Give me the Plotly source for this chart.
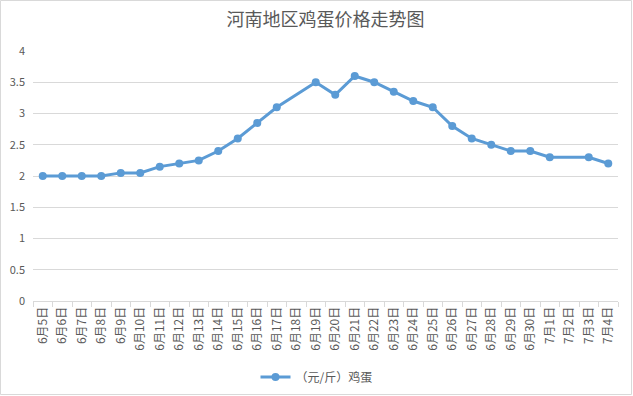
import plotly.graph_objects as go

categories = ["6月5日","6月6日","6月7日","6月8日","6月9日","6月10日","6月11日","6月12日","6月13日","6月14日",
              "6月15日","6月16日","6月17日","6月18日","6月19日","6月20日","6月21日","6月22日","6月23日","6月24日",
              "6月25日","6月26日","6月27日","6月28日","6月29日","6月30日","7月1日","7月2日","7月3日","7月4日"]
egg_price = [2.0, 2.0, 2.0, 2.0, 2.05, 2.05, 2.15, 2.2, 2.25, 2.4,
             2.6, 2.85, 3.1, None, 3.5, 3.3, 3.6, 3.5, 3.35, 3.2,
             3.1, 2.8, 2.6, 2.5, 2.4, 2.4, 2.3, None, 2.3, 2.2]
y_ticks = [0, 0.5, 1, 1.5, 2, 2.5, 3, 3.5, 4]
y_tick_labels = ["0", "0.5", "1", "1.5", "2", "2.5", "3", "3.5", "4"]

W, H = 633, 396
ml, mr, mt, mb = 33, 15, 51, 95
pw, ph = W - ml - mr, H - mt - mb

font = "Microsoft YaHei, Noto Sans CJK SC, sans-serif"
gray = "#595959"

fig = go.Figure()
fig.add_trace(go.Scatter(
    x=categories, y=egg_price, mode="lines+markers", name="（元/斤）鸡蛋",
    connectgaps=True,
    line=dict(color="#5B9BD5", width=3),
    marker=dict(color="#5B9BD5", size=8),
))

fig.update_layout(
    width=W, height=H,
    margin=dict(l=ml, r=mr, t=mt, b=mb, autoexpand=False),
    paper_bgcolor="white", plot_bgcolor="white",
    font=dict(family=font, color=gray, size=11),
    title=dict(text="河南地区鸡蛋价格走势图", x=0.5, xanchor="center", xref="paper",
               y=1 - 20/H, yanchor="middle", yref="container",
               font=dict(size=18, color=gray, family=font)),
    showlegend=True,
    legend=dict(orientation="h", x=0.5 - 9 / pw, xanchor="center", y=-(377 - mt - ph) / ph, yanchor="middle",
                font=dict(size=12, color=gray)),
    shapes=[dict(type="rect", xref="paper", yref="paper",
                 x0=-(ml - 0.5) / pw, x1=1 + (mr - 1.5) / pw,
                 y0=-(mb - 1.5) / ph, y1=1 + (mt - 0.5) / ph,
                 line=dict(color="#D9D9D9", width=1), layer="below")],
)
fig.update_xaxes(
    type="category", range=[-0.5, len(categories) - 0.5],
    tickangle=-90, tickson="boundaries", ticks="outside", ticklen=5,
    tickcolor="#D9D9D9", showline=True, linecolor="#D9D9D9", linewidth=1,
    showgrid=False, tickfont=dict(size=12, color=gray), automargin=False,
)
fig.update_yaxes(
    range=[0, 4], tickvals=y_ticks, ticktext=y_tick_labels, showgrid=True,
    gridcolor="#D9D9D9", gridwidth=1, zeroline=False, showline=False,
    tickfont=dict(size=11, color=gray), ticklabelstandoff=7, automargin=False,
)

fig.write_html("out.html", config={"displayModeBar": False},
               post_script="document.body.style.margin='0';document.body.style.overflow='hidden';")
